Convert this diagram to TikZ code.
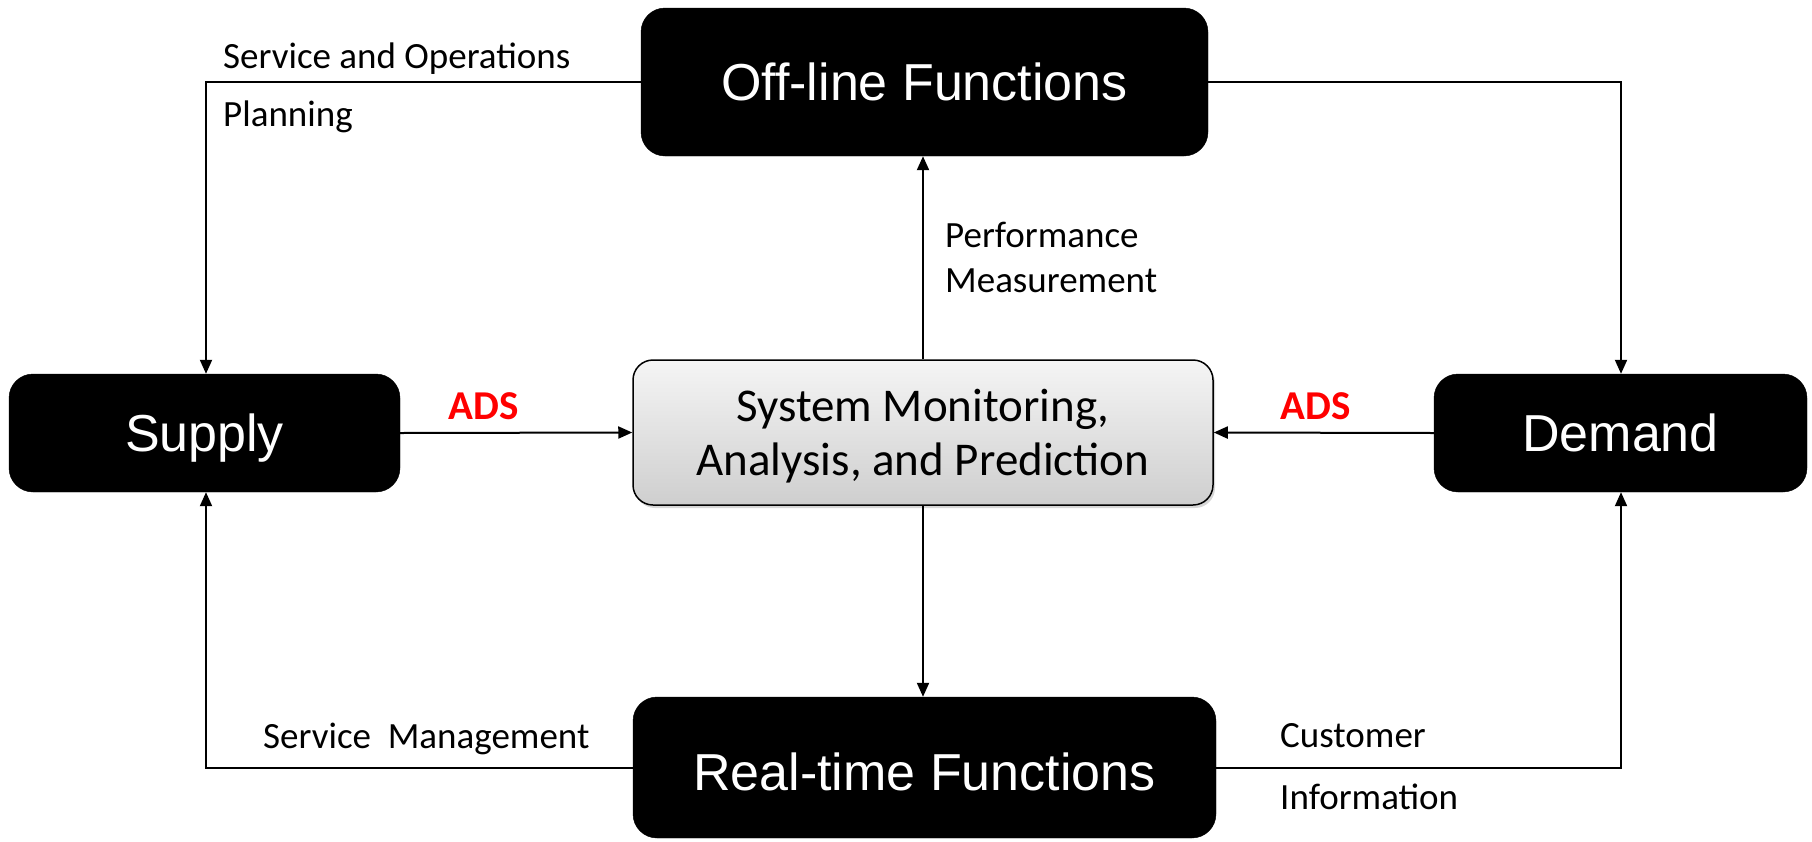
\documentclass[tikz,border=0pt]{standalone}
\usepackage{fontspec}
\setmainfont{Carlito}
\newfontfamily\arialf{Liberation Sans}
\usetikzlibrary{arrows.meta,shadows}
\tikzset{
  blackbox/.style={draw=black,fill=black,rounded corners=24pt,text=white,font=\arialf\fontsize{52}{60}\selectfont,inner sep=0pt,text height=37.5pt,text depth=0pt},
  graybox/.style={draw=black,line width=1.5pt,rounded corners=20pt,top color=gray!8,bottom color=gray!38,
     drop shadow={shadow xshift=2pt,shadow yshift=-3pt,fill=gray!45,opacity=0.7},
     inner sep=0pt},
  montxt/.style={font=\fontsize{47}{54}\selectfont,align=center,inner sep=0pt},
  conn/.style={line width=2pt,-{Triangle[length=14pt,width=12pt]}},
  lbl/.style={font=\fontsize{37}{44}\selectfont,anchor=west,inner sep=0pt},
  ads/.style={font=\bfseries\fontsize{41}{48}\selectfont,text=red,inner sep=0pt}
}
\begin{document}
\begin{tikzpicture}[x=1pt,y=-1pt]
\useasboundingbox (0,0) rectangle (1812,841);
\node[blackbox,minimum width=567pt,minimum height=148pt] (off) at (924.5,82) {Off-line Functions};
\node[blackbox,minimum width=391pt,minimum height=118pt] (sup) at (204.5,433) {Supply};
\node[blackbox,minimum width=373pt,minimum height=118pt] (dem) at (1620.5,433) {Demand};
\node[graybox,minimum width=580pt,minimum height=145pt] (mon) at (923,432.5) {};
\node[montxt] (montext) at (923,436.5) {System Monitoring,\\Analysis, and Prediction};
\node[blackbox,minimum width=583pt,minimum height=141pt,text height=46.5pt] (rt) at (924.5,767.5) {Real-time Functions};
% corner coordinates
\coordinate (tl) at (206,82);
\coordinate (tr) at (1621,82);
\coordinate (bl) at (206,768);
\coordinate (br) at (1621,768);
\draw[conn] (off.west |- tl) -- (tl) -- (sup.north -| tl);
\draw[conn] (off.east |- tr) -- (tr) -- (dem.north -| tr);
\draw[conn] (rt.west |- bl) -- (bl) -- (sup.south -| bl);
\draw[conn] (rt.east |- br) -- (br) -- (dem.south -| br);
\draw[conn] (sup.east) -- (mon.west);
\draw[conn] (dem.west) -- (mon.east);
\draw[conn] (mon.north) -- (off.south -| mon.north);
\draw[conn] (mon.south) -- (rt.north -| mon.south);
% labels
\node[lbl] (l1) at (223,58.5) {Service and Operations};
\node[lbl] (l2) at (223,116.5) {Planning};
\node[lbl] (l3) at (945,235) {Performance};
\node[lbl] (l4) at (945,280.5) {Measurement};
\node[lbl] (l5) at (263,738.5) {Service\ \ Management};
\node[lbl] (l6) at (1280,736) {Customer};
\node[lbl] (l7) at (1280,797) {Information};
\node[ads] (a1) at (484,406) {ADS};
\node[ads] (a2) at (1316,406) {ADS};
\end{tikzpicture}
\end{document}
